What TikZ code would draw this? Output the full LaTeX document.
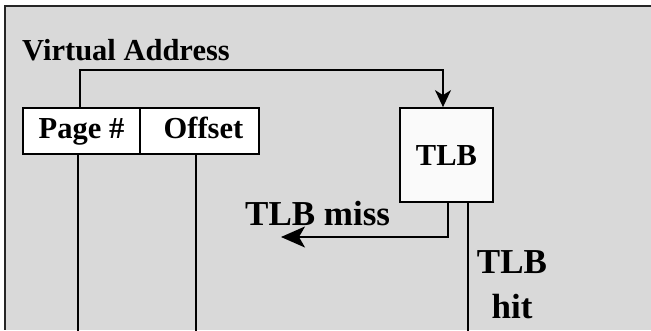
\documentclass[tikz,border=0pt]{standalone}
\usepackage{fontspec}
\setmainfont{Liberation Serif}
\usetikzlibrary{arrows.meta,calc}
\definecolor{panelgray}{RGB}{217,217,217}
\definecolor{boxwhite}{RGB}{250,250,250}
\tikzset{
  lbl/.style={font=\bfseries\fontsize{30.5}{36}\selectfont, inner sep=0pt},
  biglbl/.style={font=\bfseries\fontsize{35}{45}\selectfont, inner sep=0pt, align=center},
  fieldbox/.style={draw=black, fill=white, line width=1.8pt, inner sep=0pt,
    font=\bfseries\fontsize{30.5}{36}\selectfont, text height=20pt, text depth=6pt},
  tlbbox/.style={draw=black, fill=boxwhite, line width=1.8pt, inner sep=0pt,
    font=\bfseries\fontsize{30.5}{36}\selectfont, minimum width=93pt, minimum height=94pt,
    text height=20pt, text depth=0pt},
  conn/.style={line width=1.8pt, draw=black},
}
\begin{document}
\begin{tikzpicture}[x=1pt,y=-1pt]
\useasboundingbox (0,0) rectangle (651,330);
% panel
\fill[panelgray] (5,6) rectangle (651,330);
\draw[line width=2pt, draw=black!85] (651,6) -- (5,6) -- (5,330);
% title
\node[lbl, anchor=base west] (va) at (22,60) {Virtual Address};
% fields
\node[fieldbox, minimum width=117pt, minimum height=46pt] (page) at (81.5,131) {Page \#};
\node[fieldbox, minimum width=119pt, minimum height=46pt] (offset) at (199.5,131) {\hspace*{8pt}Offset};
% TLB
\node[tlbbox] (tlb) at (446.5,155) {TLB};
% labels
\node[biglbl, anchor=base west] (miss) at (245,225) {TLB miss};
\node[biglbl, anchor=north] (hit) at (512,250) {TLB\\hit};
% free ends
\coordinate (missend) at (281,237);
\coordinate (pagebot) at (78,332);
\coordinate (offbot) at (196,332);
\coordinate (hitbot) at (468,332);
% connectors
\draw[conn, -{Stealth[length=17pt,width=16pt,inset=5pt]}]
  ([xshift=-1.5pt]page.north) -- ++(0,-37) -| ([xshift=-3.5pt]tlb.north);
\draw[conn, -{Stealth[length=24pt,width=21pt,inset=6pt]}]
  ([xshift=1.5pt]tlb.south) |- (missend);
\draw[conn] ([xshift=-3.5pt]page.south) -- (pagebot);
\draw[conn] ([xshift=-3.5pt]offset.south) -- (offbot);
\draw[conn] ([xshift=21.5pt]tlb.south) -- (hitbot);
\end{tikzpicture}
\end{document}
